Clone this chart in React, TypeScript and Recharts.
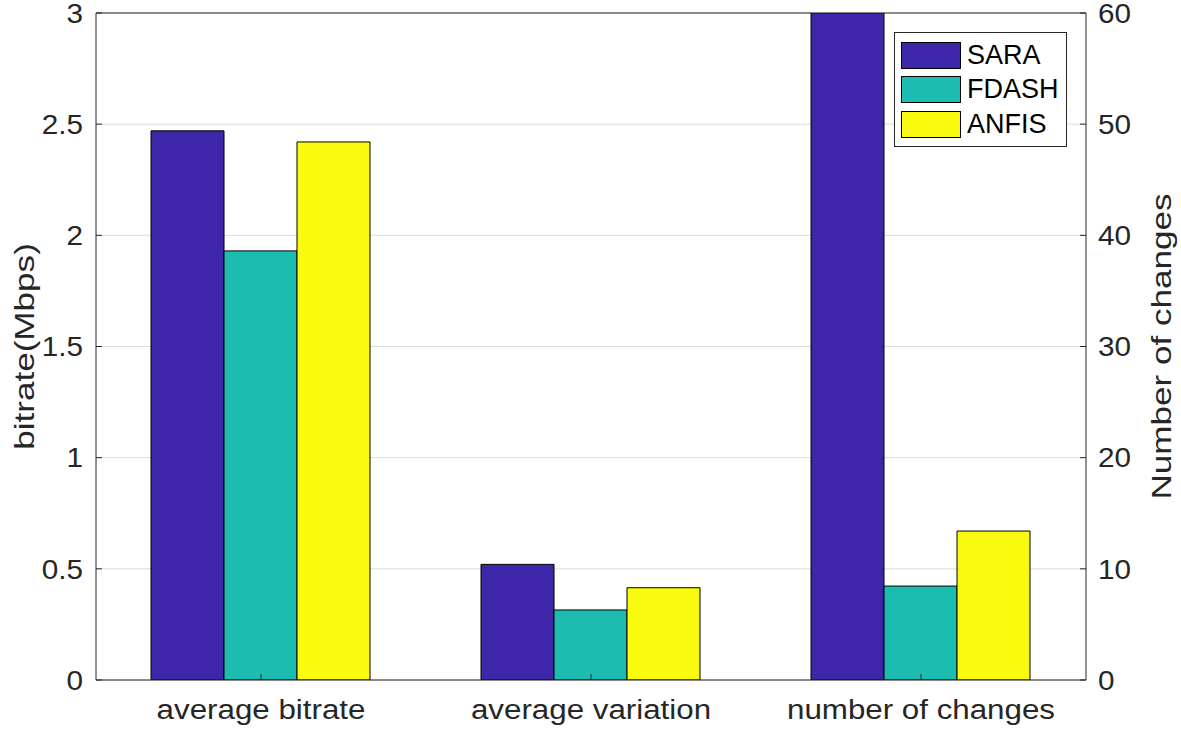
import React from 'react'
import { BarChart, Bar, XAxis, YAxis, CartesianGrid, Legend } from 'recharts'

// categories and which y axis each one is read against
const categories = ['average bitrate', 'average variation', 'number of changes']
const categoryAxis = ['left', 'left', 'right']

// values (bitrate / variation in Mbps, changes as counts)
const saraValues = [2.47, 0.52, 60]
const fdashValues = [1.93, 0.315, 8.45]
const anfisValues = [2.42, 0.415, 13.4]

const leftTicks = [0, 0.5, 1, 1.5, 2, 2.5, 3]
const rightTicks = [0, 10, 20, 30, 40, 50, 60]

const series = [
  { key: 'sara', name: 'SARA', values: saraValues, color: '#3e26a8' },
  { key: 'fdash', name: 'FDASH', values: fdashValues, color: '#1cbdb0' },
  { key: 'anfis', name: 'ANFIS', values: anfisValues, color: '#f9fb0e' },
]

const tableData = categories.map((category, i) => {
  const row: Record<string, string | number | null> = { category }
  series.forEach((s) => {
    row[`${s.key}_left`] = categoryAxis[i] === 'left' ? s.values[i] : null
    row[`${s.key}_right`] = categoryAxis[i] === 'right' ? s.values[i] : null
  })
  return row
})

const FONT = "'Liberation Sans', Arial, Helvetica, sans-serif"
const INK = '#262626'

const YTick = (props: any) => {
  const { x, y, payload, textAnchor } = props
  return (
    <g transform={`translate(${x},${y}) scale(1.1,1)`}>
      <text x={0} y={0} dy="0.36em" textAnchor={textAnchor} fontSize={27} fontFamily={FONT} fill={INK}>
        {payload.value}
      </text>
    </g>
  )
}

const XTick = (props: any) => {
  const { x, y, payload } = props
  return (
    <g transform={`translate(${x},${y}) scale(1.16,1)`}>
      <text x={0} y={0} dy="0.71em" textAnchor="middle" fontSize={27} fontFamily={FONT} fill={INK}>
        {payload.value}
      </text>
    </g>
  )
}

const sideLabel = (text: string, side: 'left' | 'right') => (props: any) => {
  const vb = props.viewBox
  const cx = side === 'left' ? vb.x + 34 : vb.x + vb.width - 10
  const cy = vb.y + vb.height / 2
  return (
    <g transform={`translate(${cx},${cy}) rotate(-90) scale(1.3,1)`}>
      <text x={0} y={0} textAnchor="middle" fontSize={27} fontFamily={FONT} fill={INK}>
        {text}
      </text>
    </g>
  )
}

const LegendBox = () => (
  <div
    style={{
      border: `1px solid ${INK}`,
      background: '#fff',
      width: 171,
      height: 108,
      boxSizing: 'content-box',
      fontFamily: FONT,
      fontSize: 27,
      color: '#000',
      paddingTop: 5,
    }}
  >
    {series.map((s) => (
      <div key={s.key} style={{ display: 'flex', alignItems: 'center', height: 34.5, marginLeft: 6 }}>
        <div style={{ width: 58, height: 25, background: s.color, border: '1px solid #000' }} />
        <span style={{ marginLeft: 6, lineHeight: '27px' }}>{s.name}</span>
      </div>
    ))}
  </div>
)

export default function App() {
  return (
    <div style={{ position: 'absolute', left: 0, top: 0, width: 1181, height: 731, background: '#fff' }}>
      <BarChart
        width={1181}
        height={731}
        data={tableData}
        margin={{ top: 12, right: 0, bottom: 0, left: 0 }}
        barCategoryGap="16.67%"
        barGap={0}
      >
        <CartesianGrid xAxisId="main" yAxisId="left" vertical={false} stroke="#dcdcdc" />
        {series.map((s) => (
          <Bar
            key={`${s.key}_left`}
            xAxisId="main"
            yAxisId="left"
            dataKey={`${s.key}_left`}
            name={s.name}
            fill={s.color}
            stroke="#000"
            strokeWidth={1}
            isAnimationActive={false}
          />
        ))}
        {series.map((s) => (
          <Bar
            key={`${s.key}_right`}
            xAxisId="top"
            yAxisId="right"
            dataKey={`${s.key}_right`}
            name={s.name}
            fill={s.color}
            stroke="#000"
            strokeWidth={1}
            isAnimationActive={false}
          />
        ))}
        <XAxis
          xAxisId="main"
          dataKey="category"
          height={51}
          stroke={INK}
          tickSize={-6}
          tickMargin={26}
          tick={<XTick />}
        />
        <XAxis
          xAxisId="top"
          dataKey="category"
          orientation="top"
          height={1}
          stroke={INK}
          tickSize={-6}
          tick={false}
        />
        <YAxis
          yAxisId="left"
          orientation="left"
          width={96}
          domain={[0, 3]}
          ticks={leftTicks}
          allowDataOverflow
          stroke={INK}
          tickSize={-6}
          tickMargin={19}
          tick={<YTick />}
          label={{ content: sideLabel('bitrate(Mbps)', 'left') }}
        />
        <YAxis
          yAxisId="right"
          orientation="right"
          width={95}
          domain={[0, 60]}
          ticks={rightTicks}
          allowDataOverflow
          stroke={INK}
          tickSize={-6}
          tickMargin={18}
          tick={<YTick />}
          label={{ content: sideLabel('Number of changes', 'right') }}
        />
        <Legend
          layout="horizontal"
          verticalAlign="middle"
          align="center"
          wrapperStyle={{ left: 894, top: 32, width: 'auto', height: 'auto' }}
          content={<LegendBox />}
        />
      </BarChart>
    </div>
  )
}
